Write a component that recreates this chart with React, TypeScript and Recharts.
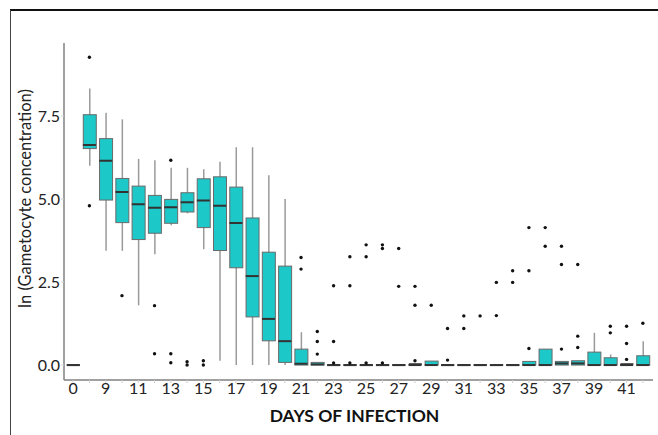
import React from 'react';
import { ComposedChart, Bar, Line, XAxis, YAxis, Label } from 'recharts';

// days sampled; 0 is the baseline, then daily from day 8
const days = ['0', '8', '9', '10', '11', '12', '13', '14', '15', '16', '17', '18', '19', '20', '21',
  '22', '23', '24', '25', '26', '27', '28', '29', '30', '31', '32', '33', '34', '35', '36', '37',
  '38', '39', '40', '41', '42'];

// box plot stats per day (ln gametocyte concentration)
const whiskerLow = [0, 6.0, 3.44, 3.44, 1.8, 3.34, 4.21, 4.57, 3.49, 0.13, 0, 0, 0, 0, 0,
  0, 0, 0, 0, 0, 0, 0, 0, 0, 0, 0, 0, 0, 0, 0, 0, 0, 0, 0, 0, 0];
const q1 = [0, 6.52, 4.97, 4.29, 3.78, 3.97, 4.27, 4.61, 4.14, 3.45, 2.93, 1.45, 0.73, 0.08, 0,
  0, 0, 0, 0, 0, 0, 0, 0, 0, 0, 0, 0, 0, 0, 0, 0, 0, 0, 0, 0, 0];
const median = [0, 6.63, 6.15, 5.21, 4.84, 4.74, 4.75, 4.9, 4.96, 4.8, 4.28, 2.68, 1.39, 0.72, 0.04,
  0.02, 0, 0, 0, 0, 0, 0, 0, 0, 0, 0, 0, 0, 0, 0, 0.05, 0.05, 0, 0, 0, 0];
const q3 = [0, 7.54, 6.82, 5.62, 5.39, 5.11, 4.99, 5.19, 5.61, 5.67, 5.36, 4.43, 3.4, 2.98, 0.48,
  0.08, 0, 0, 0, 0, 0, 0.03, 0.12, 0, 0, 0, 0, 0, 0.11, 0.48, 0.11, 0.13, 0.39, 0.22, 0.03, 0.28];
const whiskerHigh = [0, 8.33, 7.6, 7.4, 6.21, 6.17, 5.94, 5.94, 5.9, 6.12, 6.56, 6.56, 5.72, 5.0, 0.99,
  0.08, 0, 0, 0, 0, 0, 0.03, 0.12, 0, 0, 0, 0, 0, 0.11, 0.48, 0.11, 0.13, 0.97, 0.32, 0.03, 0.72];

// outliers per day
const outliers: number[][] = [
  [], [9.27, 4.8], [], [2.09], [], [1.79, 0.34], [6.17, 0.34, 0.07], [0.1, 0.0], [0.13, 0.0], [], [],
  [], [], [], [3.24, 2.89], [1.01, 0.71, 0.33], [2.39, 0.71, 0.06], [3.26, 2.39, 0.06],
  [3.62, 3.26, 0.06], [3.62, 3.51, 0.06], [3.51, 2.37], [2.37, 1.8, 0.13], [1.8], [1.1, 0.15],
  [1.48, 1.1], [1.48], [2.49, 1.49], [2.84, 2.49], [4.14, 2.84, 0.5], [4.14, 3.58],
  [3.58, 3.03, 0.48], [3.03, 0.87, 0.53], [], [1.17, 0.97], [1.17, 0.65, 0.17], [1.26],
];

const yTicks = [0, 2.5, 5, 7.5];

const data = days.map((day, i) => ({
  day,
  whisker: [whiskerLow[i], whiskerHigh[i]],
  box: [q1[i], q3[i]],
  med: median[i],
  o1: outliers[i][0] ?? null,
  o2: outliers[i][1] ?? null,
  o3: outliers[i][2] ?? null,
}));

const BOX_W = 13;
const FONT = 'Lato, "Open Sans", sans-serif';

const WhiskerShape = (props: any) => {
  const { x, y, width, height } = props;
  if (height == null || height < 1) return null;
  const cx = x + width / 2;
  return <line x1={cx} x2={cx} y1={y} y2={y + height} stroke="#9a9a9a" strokeWidth={1.5} />;
};

const BoxShape = (props: any) => {
  const { x, y, width, height } = props;
  if (height == null || Math.abs(height) < 1.5) {
    return <line x1={x} x2={x + width} y1={y} y2={y} stroke="#555" strokeWidth={2} />;
  }
  return <rect x={x} y={y} width={width} height={height} fill="#1cc8c8" stroke="#6a6a6a" strokeWidth={1} />;
};

const MedianDot = (props: any) => {
  const { cx, cy, index } = props;
  if (cx == null || cy == null) return <g key={index} />;
  return (
    <line key={index} x1={cx - BOX_W / 2} x2={cx + BOX_W / 2} y1={cy} y2={cy} stroke="#333" strokeWidth={2} />
  );
};

// labels on every other day, tick lines on all of them
const DayTick = (props: any) => {
  const { x, y, payload, index } = props;
  if (index % 2 !== 0) return <g />;
  return (
    <text x={x} y={y} dy="0.71em" textAnchor="middle" fontSize={16} fill="#222" fontFamily={FONT}>
      {payload.value}
    </text>
  );
};

const YLabel = (props: any) => {
  const { viewBox } = props;
  const x = viewBox.x + 15;
  const y = viewBox.y + viewBox.height / 2 - 13;
  return (
    <text x={x} y={y} transform={`rotate(-90, ${x}, ${y})`} textAnchor="middle" dominantBaseline="central"
      fontSize={16.5} fill="#222" fontFamily={FONT}>
      ln (Gametocyte concentration)
    </text>
  );
};

export default function App() {
  return (
    <div style={{ position: 'absolute', left: 0, top: 0, width: 658, height: 435, overflow: 'hidden', background: '#fff' }}>
      <div
        style={{
          position: 'absolute', left: 10, top: 9, width: 648, height: 426,
          borderTop: '2px solid #111', borderLeft: '1.5px solid #444',
        }}
      />
      <div style={{ position: 'absolute', left: 0, top: 0 }}>
        <ComposedChart width={658} height={435} data={data} margin={{ top: 43, right: 5, bottom: 0, left: 10 }}>
          <XAxis
            dataKey="day"
            interval={0}
            height={55}
            padding={{ left: 1, right: 2 }}
            axisLine={{ stroke: '#808080', strokeWidth: 1.5 }}
            tickLine={{ stroke: '#cfcfcf' }}
            tickSize={3}
            tickMargin={0}
            tick={<DayTick />}
          >
            <Label
              value="DAYS OF INFECTION"
              position="insideBottom"
              offset={13}
              dx={-4}
              style={{ fontFamily: FONT, fontSize: 17.5, fontWeight: 700, fill: '#111' }}
            />
          </XAxis>
          <XAxis xAxisId="w" dataKey="day" hide padding={{ left: 1, right: 2 }} />
          <YAxis
            domain={[-0.45, 9.7]}
            ticks={yTicks}
            width={54}
            tickFormatter={(v) => v.toFixed(1)}
            axisLine={{ stroke: '#808080', strokeWidth: 1.5 }}
            tickLine={{ stroke: '#cfcfcf' }}
            tickSize={3}
            tickMargin={1}
            tick={{ fontSize: 16, fill: '#222', fontFamily: FONT }}
            allowDataOverflow
          >
            <Label content={<YLabel />} />
          </YAxis>
          <Bar xAxisId="w" dataKey="whisker" barSize={BOX_W} shape={<WhiskerShape />} isAnimationActive={false} />
          <Bar dataKey="box" barSize={BOX_W} shape={<BoxShape />} isAnimationActive={false} />
          <Line dataKey="med" stroke="none" dot={<MedianDot />} activeDot={false} isAnimationActive={false} />
          <Line dataKey="o1" stroke="none" dot={{ r: 1.7, fill: '#111', stroke: 'none' }} activeDot={false} isAnimationActive={false} />
          <Line dataKey="o2" stroke="none" dot={{ r: 1.7, fill: '#111', stroke: 'none' }} activeDot={false} isAnimationActive={false} />
          <Line dataKey="o3" stroke="none" dot={{ r: 1.7, fill: '#111', stroke: 'none' }} activeDot={false} isAnimationActive={false} />
        </ComposedChart>
      </div>
    </div>
  );
}
